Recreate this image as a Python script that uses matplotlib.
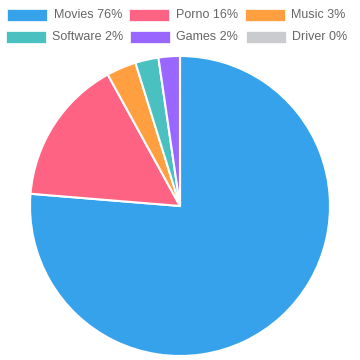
import matplotlib
matplotlib.use('Agg')
import matplotlib.pyplot as plt
from matplotlib.patches import Rectangle

labels = ['Movies', 'Porno', 'Music', 'Software', 'Games', 'Driver']
values = [76.3, 15.7, 3.2, 2.5, 2.3, 0.0]
shown_pct = ['76%', '16%', '3%', '2%', '2%', '0%']
colors = ['#36A2EB', '#FF6384', '#FF9F40', '#4BC0C0', '#9966FF', '#C9CBCF']

plt.rcParams['font.family'] = ['Liberation Sans', 'DejaVu Sans']

W, H = 360, 360
fig = plt.figure(figsize=(W / 100, H / 100), dpi=100)

# pie area: center (180, 206), radius 150 in pixels
ax = fig.add_axes([30 / W, 4 / H, 300 / W, 300 / H])
ax.pie(values, colors=colors, startangle=90, counterclock=False,
       wedgeprops={'edgecolor': 'white', 'linewidth': 1.5})
ax.set_xlim(-1.0, 1.0)
ax.set_ylim(-1.0, 1.0)
ax.set_aspect('equal')
ax.axis('off')

# legend in two rows, chart.js style
box_x = [7, 129, 245, 6, 130, 246]
text_x = [54, 176, 291, 52, 176, 292]
row_y = [15, 15, 15, 37, 37, 37]
for i, name in enumerate(labels):
    y = H - row_y[i]
    fig.patches.append(Rectangle((box_x[i] / W, (y - 6) / H), 40 / W, 12 / H,
                                 transform=fig.transFigure, facecolor=colors[i],
                                 edgecolor='white', linewidth=0.5))
    fig.text(text_x[i] / W, y / H, '{} {}'.format(name, shown_pct[i]),
             fontsize=9, color='#666666', ha='left', va='center')

plt.savefig('out.png', dpi=100)
